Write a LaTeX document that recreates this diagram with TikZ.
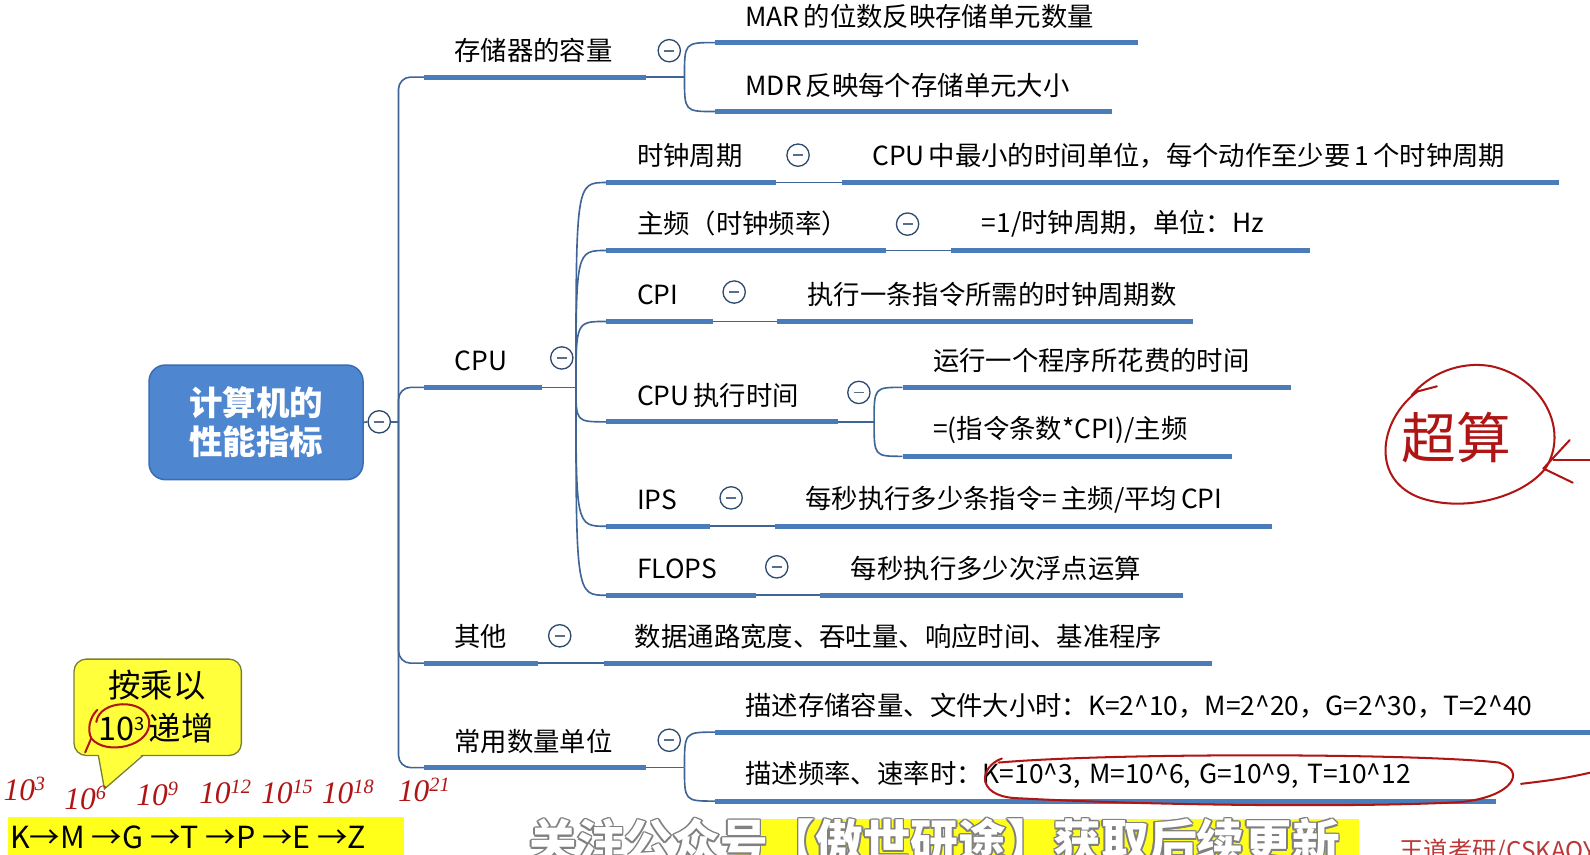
\documentclass[tikz,border=0pt]{standalone}
\usepackage{fontspec}
\setmainfont{Noto Sans CJK SC}
\newfontfamily\hand{Liberation Serif}
\usetikzlibrary{calc}
\definecolor{barc}{HTML}{4A7CBA}
\definecolor{connc}{HTML}{3F6597}
\definecolor{colc}{HTML}{2E4A70}
\definecolor{rootfill}{HTML}{4F86D0}
\definecolor{rootdraw}{HTML}{3A6DB5}
\definecolor{annred}{HTML}{B01515}
\definecolor{callfill}{HTML}{FFFF3C}
\definecolor{calldraw}{HTML}{7A8030}
\definecolor{hlc}{HTML}{FFFF1A}
\newcommand\mm{\fontsize{26}{30}\selectfont}
\newcommand\gapsp{\hspace{4pt}}
\newcommand\wm[1]{%
\makebox[0pt][l]{\color{gray}\hspace{-1.6pt}#1}%
\makebox[0pt][l]{\color{gray}\hspace{1.6pt}#1}%
\makebox[0pt][l]{\color{gray}\raisebox{1.6pt}{#1}}%
\makebox[0pt][l]{\color{gray}\raisebox{-1.6pt}{#1}}%
\makebox[0pt][l]{\color{gray}\hspace{-1.1pt}\raisebox{1.1pt}{#1}}%
\makebox[0pt][l]{\color{gray}\hspace{1.1pt}\raisebox{-1.1pt}{#1}}%
\makebox[0pt][l]{\color{gray}\hspace{1.1pt}\raisebox{1.1pt}{#1}}%
\makebox[0pt][l]{\color{gray}\hspace{-1.1pt}\raisebox{-1.1pt}{#1}}%
{\color{white}#1}}
\tikzset{
  topic/.style={anchor=south west, inner xsep=30pt, inner ysep=0pt, minimum height=52pt, text width=#1, align=left, font=\mm},
  bar/.style={draw=barc, line width=5pt},
  conn/.style={draw=connc, line width=1.6pt},
  col/.style={circle, draw=colc, line width=1.3pt, fill=white, minimum size=22pt, inner sep=0pt,
    path picture={\draw[colc!80, line width=1.6pt] ([xshift=-5pt]path picture bounding box.center) -- ([xshift=5pt]path picture bounding box.center);}},
  rootbox/.style={rectangle, rounded corners=16pt, fill=rootfill, draw=rootdraw, line width=1.5pt, minimum width=211pt, minimum height=113pt, align=center, text=white, font=\fontsize{33}{38}\selectfont\bfseries},
  redann/.style={draw=annred, line width=2pt, line cap=round, line join=round},
  handtxt/.style={text=annred, font=\hand\itshape\fontsize{31}{32}\selectfont, inner sep=0pt},
}
\newcommand\tnode[5]{%
  \pgfmathsetmacro\tw{#3-#2-60}%
  \node[topic=\tw pt] (#1) at (#2,#4) {\mbox{#5}};
  \draw[bar] (#1.south west) -- (#1.south east);
}
\begin{document}
\begin{tikzpicture}[x=1pt,y=-1pt]
\useasboundingbox (0,0) rectangle (1568,843);
\fill[white] (0,0) rectangle (1568,843);

% root
\node[rootbox] (root) at (252.5,416.5) {计算机的\\性能指标};
\node[col] (rootc) at (374,416) {};
\draw[conn] (root.east) -- (rootc.west);
\coordinate (trunk) at (393,416);
\draw[conn] (rootc.east) -- (trunk);

% level 1
\tnode{cap}{418}{637}{76}{存储器的容量}
\tnode{cpu}{418}{534}{382}{CPU}
\tnode{oth}{418}{530}{654}{其他}
\tnode{unit}{418}{637}{757}{常用数量单位}
\foreach \n in {cap,cpu,oth,unit} \draw[conn, rounded corners=12pt] (trunk) |- (\n.south west);

% storage capacity
\tnode{mar}{705}{1122}{42}{MAR\gapsp 的位数反映存储单元数量}
\tnode{mdr}{705}{1096}{110}{MDR\gapsp 反映每个存储单元大小}
\coordinate (capf) at (675,76);
\draw[conn] (cap.south east) -- (capf);
\foreach \n in {mar,mdr} \draw[conn] (capf) .. controls (capf |- \n.south west) .. (\n.south west);

% CPU
\tnode{clk}{598}{765}{180}{时钟周期}
\tnode{clkd}{830}{1537}{180}{CPU\gapsp 中最小的时间单位，每个动作至少要\gapsp 1\gapsp 个时钟周期}
\tnode{frq}{598}{873}{247}{主频（时钟频率）}
\tnode{frqd}{938}{1291}{247}{=1/时钟周期，单位：Hz}
\tnode{cpi}{598}{703}{317}{CPI}
\tnode{cpid}{766}{1176}{317}{执行一条指令所需的时钟周期数}
\tnode{ext}{598}{826}{416}{CPU\gapsp 执行时间}
\tnode{exta}{890}{1273}{382}{运行一个程序所花费的时间}
\tnode{extb}{890}{1215}{450}{=(指令条数*CPI)/主频}
\tnode{ips}{598}{700}{519}{IPS}
\tnode{ipsd}{764}{1254}{519}{每秒执行多少条指令=\gapsp 主频/平均\gapsp CPI}
\tnode{flo}{598}{745}{587}{FLOPS}
\tnode{flod}{809}{1166}{587}{每秒执行多少次浮点运算}
\coordinate (cpuf) at (568,382);
\draw[conn] (cpu.south east) -- (cpuf);
\foreach \n in {clk,frq,cpi,ext,ips,flo} \draw[conn] (cpuf) .. controls (cpuf |- \n.south west) .. (\n.south west);
\draw[conn] (clk.south east) -- (clkd.south west);
\draw[conn] (frq.south east) -- (frqd.south west);
\draw[conn] (cpi.south east) -- (cpid.south west);
\draw[conn] (ips.south east) -- (ipsd.south west);
\draw[conn] (flo.south east) -- (flod.south west);
\coordinate (extf) at (862,416);
\draw[conn] (ext.south east) -- (extf);
\foreach \n in {exta,extb} \draw[conn] (extf) .. controls (extf |- \n.south west) .. (\n.south west);

% other
\tnode{othd}{596}{1195}{654}{数据通路宽度、吞吐量、响应时间、基准程序}
\draw[conn] (oth.south east) -- (othd.south west);

% units
\tnode{ua}{705}{1600}{722}{描述存储容量、文件大小时：K=2\^{}10，M=2\^{}20，G=2\^{}30，T=2\^{}40}
\tnode{ub}{705}{1475}{790}{描述频率、速率时：K=10\^{}3, M=10\^{}6, G=10\^{}9, T=10\^{}12}
\coordinate (unitf) at (675,757);
\draw[conn] (unit.south east) -- (unitf);
\foreach \n in {ua,ub} \draw[conn] (unitf) .. controls (unitf |- \n.south west) .. (\n.south west);

% collapse markers
\node[col] (c1) at (660,50) {};
\node[col] (c2) at (554,353) {};
\node[col] (c3) at (787,153) {};
\node[col] (c4) at (895,221) {};
\node[col] (c5) at (724,288) {};
\node[col] (c6) at (847,387) {};
\node[col] (c7) at (721,491) {};
\node[col] (c8) at (766,559) {};
\node[col] (c9) at (552,627) {};
\node[col] (c10) at (660,730) {};

% ---- annotations ----
% supercomputer circle
\draw[redann] (1417,381) -- (1398,386) .. controls (1362,412) and (1350,470) .. (1398,490)
  .. controls (1440,506) and (1500,492) .. (1524,462) .. controls (1548,425) and (1522,372) .. (1470,361)
  .. controls (1440,356) and (1410,368) .. (1392,390);
\node[text=annred, font=\fontsize{54}{56}\selectfont, inner sep=0pt] (sc) at (1436,432) {超算};
\draw[redann] (1548,434) -- (1522,462) -- (1551,476);
\draw[redann] (1532,454) -- (1568,454);

% ellipse around decimal units
\draw[redann] (988,748) .. controls (966,756) and (962,784) .. (1000,787)
  .. controls (1150,795) and (1350,796) .. (1440,791) .. controls (1492,786) and (1506,760) .. (1478,752)
  .. controls (1400,743) and (1100,742) .. (985,752);
\draw[redann] (1500,773) .. controls (1525,770) and (1542,768) .. (1568,762);

% callout
\draw[fill=callfill, draw=calldraw, line width=1.3pt, rounded corners=12pt] (73,650) rectangle (238,745);
\fill[callfill] (97,743) -- (103,778) -- (141,743) -- cycle;
\draw[draw=calldraw, line width=1.3pt] (97,745) -- (103,778) -- (141,745);
\node[font=\fontsize{32}{34}\selectfont, inner sep=0pt] (cl1) at (155,676) {按乘以};
\node[font=\fontsize{32}{34}\selectfont, inner sep=0pt] (cl2) at (154,718) {10\raisebox{10pt}{\fontsize{18}{20}\selectfont 3}\hspace{4pt}递增};
\draw[redann] (95,712) .. controls (98,690) and (142,688) .. (147,710) .. controls (151,736) and (104,746) .. (90,728) .. controls (86,720) and (88,708) .. (96,700);
\draw[redann] (90,728) -- (84,742);

% handwritten powers
\node[handtxt] (p1) at (24,778) {10\raisebox{10pt}{\fontsize{20}{22}\selectfont 3}};
\node[handtxt] (p2) at (84,787) {10\raisebox{10pt}{\fontsize{20}{22}\selectfont 6}};
\node[handtxt] (p3) at (155,783) {10\raisebox{10pt}{\fontsize{20}{22}\selectfont 9}};
\node[handtxt] (p4) at (222,781) {10\raisebox{10pt}{\fontsize{20}{22}\selectfont 12}};
\node[handtxt] (p5) at (283,781) {10\raisebox{10pt}{\fontsize{20}{22}\selectfont 15}};
\node[handtxt] (p6) at (343,781) {10\raisebox{10pt}{\fontsize{20}{22}\selectfont 18}};
\node[handtxt] (p7) at (418,779) {10\raisebox{10pt}{\fontsize{20}{22}\selectfont 21}};

% highlighted prefix chain
\fill[hlc] (8,806) rectangle (398,850);
\node[anchor=west, inner sep=0pt, font=\fontsize{30}{32}\selectfont] (chain) at (10,826) {K→M →G →T →P →E →Z};

% watermark
\fill[hlc] (725,808) rectangle (1340,850);
\node[anchor=west, inner sep=0pt, font=\fontsize{47}{50}\selectfont\bfseries] (wmk) at (522,830) {\wm{关注公众号【傲世研途】获取后续更新}};
\node[anchor=west, inner sep=0pt, text=annred!85, font=\fontsize{24}{26}\selectfont] (wd) at (1380,840) {王道考研/CSKAOYAN};
\end{tikzpicture}
\end{document}
